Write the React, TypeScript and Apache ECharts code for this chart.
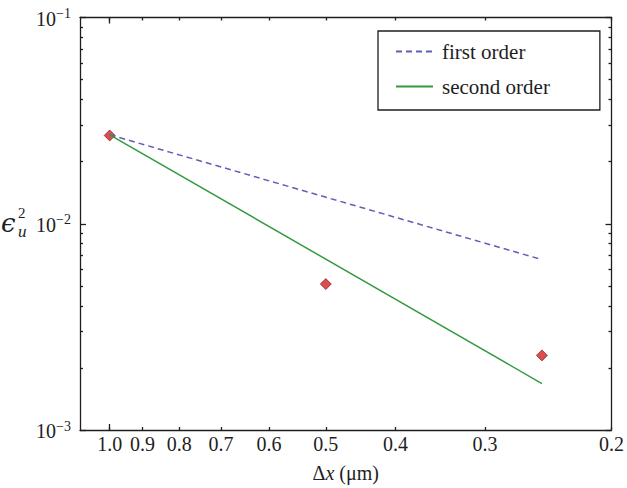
import React, { useEffect, useRef } from 'react';
import * as echarts from 'echarts';

// ---- data (raw, un-transformed values) ----
const xTickValues = [1.0, 0.9, 0.8, 0.7, 0.6, 0.5, 0.4, 0.3, 0.2];
const xMajorTickValues = [1.0];
const xRange = [0.2, 1.1];
const yMajorTickValues = [0.001, 0.01, 0.1];
const yMinorTickValues = [
  0.002, 0.003, 0.004, 0.005, 0.006, 0.007, 0.008, 0.009,
  0.02, 0.03, 0.04, 0.05, 0.06, 0.07, 0.08, 0.09,
];
const yRange = [0.001, 0.1];

const legendNames = ['first order', 'second order'];
const firstOrderX = [1.0, 0.25];
const firstOrderY = [0.027, 0.0067];
const secondOrderX = [1.0, 0.25];
const secondOrderY = [0.027, 0.00168];
const measuredX = [1.0, 0.5, 0.25];
const measuredY = [0.0268, 0.0051, 0.0023];

const SERIF = 'Liberation Serif';
const INK = '#1e1e1e';
const BLUE = '#5f5fb8';
const GREEN = '#339a3f';

const L = (v: number) => Math.log10(v);
const pairs = (xs: number[], ys: number[]) => xs.map((x, i) => [L(x), L(ys[i])]);

export default function App() {
  const ref = useRef<HTMLDivElement>(null);

  useEffect(() => {
    if (!ref.current) return;
    const chart = echarts.init(ref.current, undefined, { renderer: 'svg' });

    const xBase = {
      type: 'value' as const,
      min: L(xRange[0]),
      max: L(xRange[1]),
      inverse: true,
      splitLine: { show: false },
    };
    const yBase = {
      type: 'value' as const,
      min: L(yRange[0]),
      max: L(yRange[1]),
      splitLine: { show: false },
    };
    const lineStyle = { color: INK, width: 1.3 };

    const option: any = {
      animation: false,
      backgroundColor: '#ffffff',
      textStyle: { fontFamily: SERIF },
      grid: { left: 80, right: 13, top: 17.5, bottom: 57.5, containLabel: false },
      xAxis: [
        {
          ...xBase,
          position: 'bottom',
          axisLine: { show: true, onZero: false, lineStyle },
          axisTick: {
            show: true,
            inside: true,
            length: 3,
            customValues: xTickValues.map(L),
            lineStyle,
          },
          axisLabel: {
            show: true,
            customValues: xTickValues.map(L),
            formatter: (v: number) => Math.pow(10, v).toFixed(1),
            fontSize: 20,
            fontFamily: SERIF,
            color: INK,
            margin: 4,
          },
          name: '{a|Δ}{i|x}{a| (μm)}',
          nameLocation: 'middle',
          nameGap: 33,
          nameTextStyle: {
            rich: {
              a: { fontSize: 20, fontFamily: SERIF, color: INK },
              i: { fontSize: 20, fontFamily: SERIF, fontStyle: 'italic', color: INK },
            },
          },
        },
        {
          ...xBase,
          position: 'bottom',
          axisLine: { show: false, onZero: false },
          axisTick: { show: true, inside: true, length: 6, customValues: xMajorTickValues.map(L), lineStyle },
          axisLabel: { show: false },
        },
        {
          ...xBase,
          position: 'top',
          axisLine: { show: true, onZero: false, lineStyle },
          axisTick: { show: true, inside: true, length: 3, customValues: xTickValues.map(L), lineStyle },
          axisLabel: { show: false },
        },
        {
          ...xBase,
          position: 'top',
          axisLine: { show: false, onZero: false },
          axisTick: { show: true, inside: true, length: 6, customValues: xMajorTickValues.map(L), lineStyle },
          axisLabel: { show: false },
        },
      ],
      yAxis: [
        {
          ...yBase,
          position: 'left',
          axisLine: { show: true, onZero: false, lineStyle },
          axisTick: { show: true, inside: true, length: 3, customValues: yMinorTickValues.map(L), lineStyle },
          axisLabel: {
            show: true,
            customValues: yMajorTickValues.map(L),
            formatter: (v: number) => `{b|10}{s|−${Math.round(-v)}}`,
            margin: 9,
            fontFamily: SERIF,
            rich: {
              b: { fontSize: 20, fontFamily: SERIF, color: INK, lineHeight: 22, verticalAlign: 'bottom' },
              s: { fontSize: 14, fontFamily: SERIF, color: INK, lineHeight: 22, verticalAlign: 'bottom', padding: [0, 0, 8, 0] },
            },
          },
        },
        {
          ...yBase,
          position: 'left',
          axisLine: { show: false, onZero: false },
          axisTick: { show: true, inside: true, length: 6, customValues: yMajorTickValues.map(L), lineStyle },
          axisLabel: { show: false },
        },
        {
          ...yBase,
          position: 'right',
          axisLine: { show: true, onZero: false, lineStyle },
          axisTick: { show: true, inside: true, length: 3, customValues: yMinorTickValues.map(L), lineStyle },
          axisLabel: { show: false },
        },
        {
          ...yBase,
          position: 'right',
          axisLine: { show: false, onZero: false },
          axisTick: { show: true, inside: true, length: 6, customValues: yMajorTickValues.map(L), lineStyle },
          axisLabel: { show: false },
        },
      ],
      legend: {
        data: legendNames,
        orient: 'vertical',
        left: 378,
        top: 31,
        padding: [10, 50, 13, 17],
        itemWidth: 37,
        itemHeight: 14,
        itemGap: 14,
        borderColor: INK,
        borderWidth: 1.3,
        borderRadius: 0,
        backgroundColor: '#ffffff',
        itemStyle: { opacity: 0 },
        textStyle: { fontSize: 21, fontFamily: SERIF, color: INK, padding: [0, 0, 0, 4] },
      },
      graphic: [
        {
          type: 'text',
          x: 1,
          y: 223,
          style: { text: 'ϵ', font: 'italic 26px "DejaVu Serif"', fill: INK, verticalAlign: 'middle' },
        },
        {
          type: 'text',
          x: 18,
          y: 213,
          style: { text: '2', font: '15px "Liberation Serif"', fill: INK, verticalAlign: 'middle' },
        },
        {
          type: 'text',
          x: 18,
          y: 231,
          style: { text: 'u', font: 'italic 17px "Liberation Serif"', fill: INK, verticalAlign: 'middle' },
        },
      ],
      series: [
        {
          name: 'measured',
          type: 'scatter',
          xAxisIndex: 0,
          yAxisIndex: 0,
          symbol: 'diamond',
          symbolSize: 11,
          itemStyle: { color: '#d62020', borderColor: '#6b1515', borderWidth: 0.8 },
          data: pairs(measuredX, measuredY),
          z: 2,
        },
        {
          name: legendNames[0],
          type: 'line',
          xAxisIndex: 0,
          yAxisIndex: 0,
          symbol: 'none',
          color: BLUE,
          lineStyle: { color: BLUE, width: 1.5, type: [6, 4] },
          data: pairs(firstOrderX, firstOrderY),
          z: 3,
        },
        {
          name: legendNames[1],
          type: 'line',
          xAxisIndex: 0,
          yAxisIndex: 0,
          symbol: 'none',
          color: GREEN,
          lineStyle: { color: GREEN, width: 1.5 },
          data: pairs(secondOrderX, secondOrderY),
          z: 3,
        },
      ],
    };

    chart.setOption(option);
    return () => chart.dispose();
  }, []);

  return (
    <div
      ref={ref}
      style={{ position: 'absolute', left: 0, top: 0, width: 627, height: 488 }}
    />
  );
}
